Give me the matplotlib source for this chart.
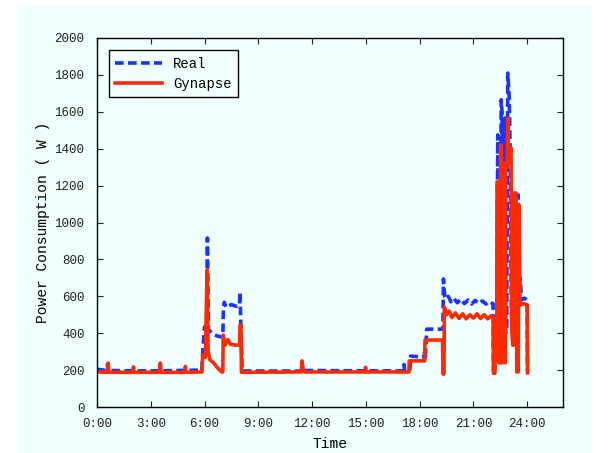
import matplotlib.pyplot as plt
from matplotlib.patches import Rectangle

real_t = [0.0, 0.5, 0.6, 0.64, 2.0, 3.5, 3.53, 3.57, 5.85, 5.9, 6.0, 6.12, 6.16,
          6.22, 6.4, 6.7, 6.95, 7.02, 7.05, 7.1, 7.2, 7.5, 7.8, 7.95, 7.98, 8.04,
          8.1, 11.4, 11.43, 11.5, 15.0, 17.1, 17.13, 17.17, 17.45, 17.5, 18.25,
          18.28, 18.32, 18.4, 19.3, 19.33, 19.4, 19.5, 19.6, 19.75, 19.9, 20.1,
          20.3, 20.5, 20.7, 20.9, 21.1, 21.3, 21.5, 21.7, 21.9, 22.0, 22.1,
          22.12, 22.2, 22.3, 22.36, 22.42, 22.5, 22.55, 22.6, 22.64, 22.7, 22.75,
          22.8, 22.86, 22.92, 23.0, 23.05, 23.12, 23.2, 23.35, 23.45, 23.5,
          23.56, 23.6, 23.7, 23.85, 24.0, 24.02]
real_w = [205, 198, 235, 198, 196, 196, 235, 196, 200, 300, 434, 434, 916,
          420, 400, 385, 380, 380, 525, 568, 540, 555, 545, 550, 623, 380,
          195, 195, 245, 198, 196, 196, 230, 196, 196, 276, 270,
          300, 270, 422, 422, 694, 600, 585, 600, 570, 590, 565,
          585, 560, 580, 558, 578, 560, 575, 558, 572, 565, 560,
          200, 210, 300, 1475, 300, 320, 1665, 1600, 400, 420, 1566,
          400, 420, 1810, 1675, 1400, 500, 450, 700, 650, 1150,
          600, 700, 580, 590, 580, 195]

gyn_t = [0.0, 0.6, 0.62, 0.66, 2.0, 2.03, 2.06, 3.5, 3.53, 3.56, 4.9, 4.93, 4.96,
         5.85, 5.9, 6.05, 6.14, 6.2, 6.3, 6.5, 6.7, 6.95, 7.02, 7.04, 7.15,
         7.3, 7.45, 7.7, 7.95, 7.98, 8.03, 8.06, 11.4, 11.43, 11.5, 11.6,
         14.95, 14.98, 15.02, 17.4, 17.42, 18.28, 18.3, 19.28, 19.3, 19.36,
         19.38, 19.5, 19.65, 19.8, 20.0, 20.2, 20.4, 20.6, 20.8, 21.0, 21.2,
         21.4, 21.6, 21.8, 22.0, 22.1, 22.12, 22.2,
         22.22, 22.3, 22.32, 22.4, 22.42, 22.5, 22.52, 22.56, 22.58, 22.64,
         22.66, 22.72, 22.74, 22.78, 22.8, 22.88, 22.92, 22.96, 23.0, 23.05,
         23.1, 23.14, 23.2, 23.24, 23.3, 23.38, 23.42, 23.5, 23.55, 23.6,
         23.8, 24.0, 24.02]
gyn_w = [190, 188, 238, 188, 188, 217, 188, 188, 238, 188, 188, 220, 188,
         190, 282, 270, 743, 300, 255, 240, 215, 190, 190, 390, 336,
         365, 340, 336, 336, 444, 444, 188, 190, 250, 205, 190,
         190, 215, 190, 190, 250, 250, 363, 363, 179, 179,
         542, 500, 520, 485, 510, 480, 505, 478, 500, 482, 505,
         480, 500, 478, 495, 485, 183, 183,
         290, 290, 1220, 1220, 240, 240, 1420, 1420, 240, 240,
         1320, 1320, 240, 240, 1300, 1300, 1565, 1400, 1405, 1380,
         1405, 417, 335, 335, 1160, 1160, 190, 190, 1095, 553,
         560, 553, 185]

hour_ticks = [0, 3, 6, 9, 12, 15, 18, 21, 24]
hour_labels = ["0:00", "3:00", "6:00", "9:00", "12:00", "15:00", "18:00", "21:00", "24:00"]

plt.rcParams['font.family'] = ['Liberation Mono', 'DejaVu Sans Mono']

fig = plt.figure(figsize=(6.08, 4.53), dpi=100)
fig.patch.set_facecolor('white')
fig.patches.append(Rectangle((17 / 608, 0), 574 / 608, 449 / 453,
                             transform=fig.transFigure, facecolor='#f0ffff',
                             edgecolor='none', zorder=-1))

ax = fig.add_axes([97 / 608, 46 / 453, 466 / 608, 369 / 453])
ax.set_facecolor('#f0ffff')

ax.plot(real_t, real_w, color='#1a33ff', lw=2.6, ls=(0, (2.4, 1.2)), label='Real')
ax.plot(gyn_t, gyn_w, color='#ff2a00', lw=2.6, label='Gynapse')

ax.set_xlim(0, 26)
ax.set_ylim(0, 2000)
ax.set_xticks(hour_ticks)
ax.set_xticklabels(hour_labels)
ax.set_yticks(range(0, 2001, 200))
ax.tick_params(direction='in', top=True, right=True, length=4, labelsize=9,
               colors='#222222')
ax.tick_params(axis='x', pad=8)
ax.tick_params(axis='y', pad=9)
for s in ax.spines.values():
    s.set_linewidth(1.0)

ax.set_xlabel('Time', fontsize=10.5, labelpad=5)
ax.set_ylabel('Power Consumption ( W )', fontsize=10.5, labelpad=3)

leg = ax.legend(loc='upper left', fontsize=10, fancybox=False, framealpha=1,
                facecolor='#f0ffff', edgecolor='black', handlelength=3.4,
                borderpad=0.45, labelspacing=0.45, bbox_to_anchor=(0.01, 0.985))
leg.get_frame().set_linewidth(1.0)

fig.savefig('out.png', dpi=100)
